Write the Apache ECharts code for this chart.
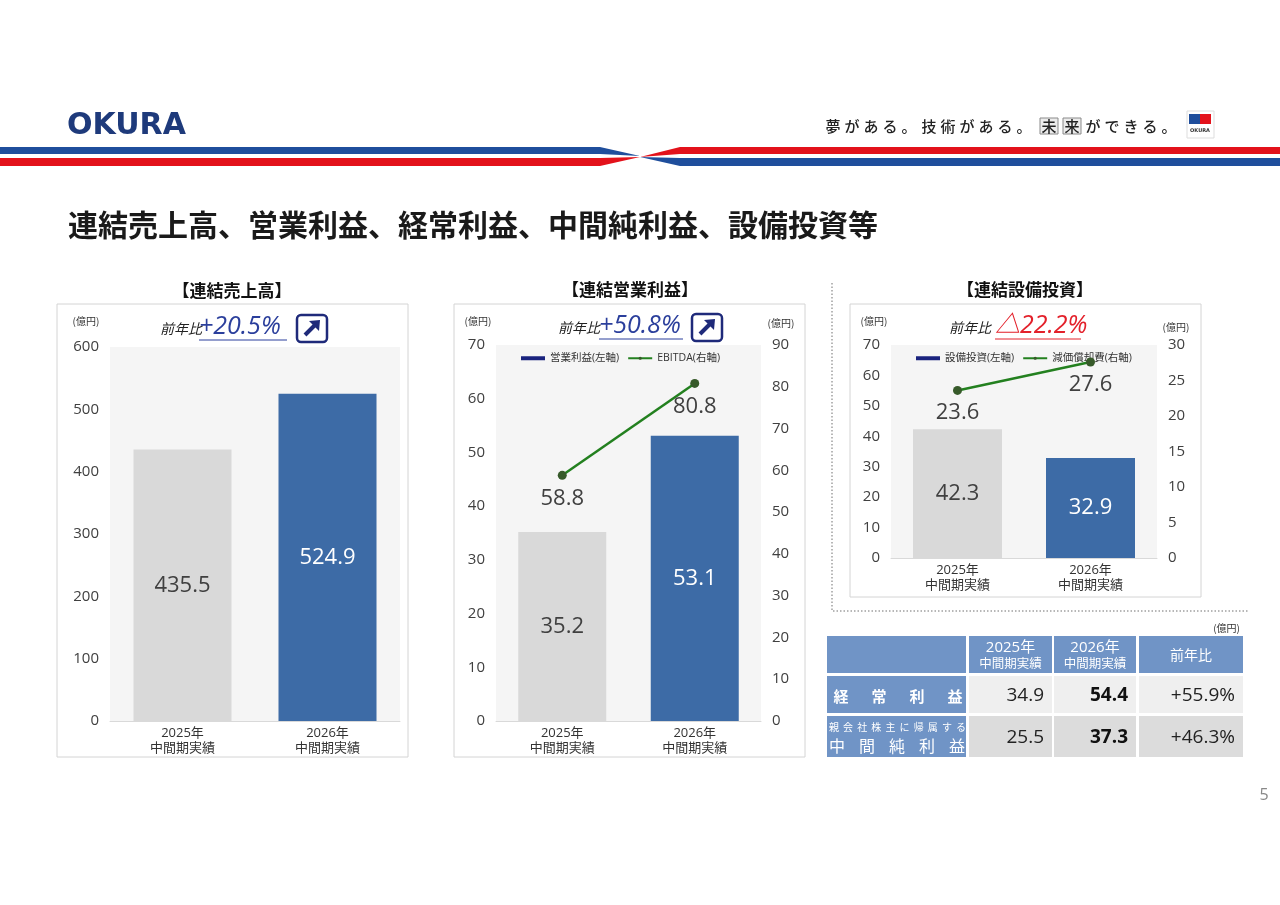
<!DOCTYPE html>
<html>
<head>
<meta charset="utf-8">
<script src="https://cdn.jsdelivr.net/npm/echarts@6/dist/echarts.min.js"></script>
<style>
  html, body { margin: 0; padding: 0; background: #fff; }
  #main { width: 1280px; height: 905px; }
</style>
</head>
<body>
<div id="main"></div>
<script>
// chart data
const categories = ['2025年\n中間期実績', '2026年\n中間期実績'];
const salesValues = [435.5, 524.9];
const opIncomeValues = [35.2, 53.1];
const ebitdaValues = [58.8, 80.8];
const capexValues = [42.3, 32.9];
const depreciationValues = [23.6, 27.6];
const yoyLabels = ['+20.5%', '+50.8%', '△22.2%'];

// table data
const tableHeaders = ['2025年\n中間期実績', '2026年\n中間期実績', '前年比'];
const ordinaryIncome = [34.9, 54.4];
const netIncome = [25.5, 37.3];
const tableYoy = ['+55.9%', '+46.3%'];

const FONT = '"Noto Sans CJK JP", "Noto Sans", sans-serif';
const NUMFONT = '"Open Sans", "Noto Sans CJK JP", sans-serif';
const barColors = ['#d9d9d9', '#3d6ba6'];
const barLabelColors = ['#404040', '#ffffff'];
const navy = '#1f2a7a';
const tableBlue = '#7094c6';

function barData(values) {
  return values.map((v, i) => ({
    value: v,
    itemStyle: { color: barColors[i] },
    label: { color: barLabelColors[i] }
  }));
}

function panel(x, y, w, h) {
  return {
    type: 'rect', z: -10,
    shape: { x: x, y: y, width: w, height: h },
    style: { fill: '#fff', stroke: '#d4d4d4', lineWidth: 1 }
  };
}

function txt(x, y, text, opts) {
  return {
    type: 'text', x: x, y: y, z: 50,
    style: Object.assign({
      text: text, fontFamily: FONT, fontSize: 14, fill: '#333',
      textAlign: 'center', textVerticalAlign: 'middle'
    }, opts || {})
  };
}

function arrowBox(x, y) {
  return {
    type: 'group', x: x, y: y, z: 50,
    children: [
      { type: 'rect', shape: { x: 0, y: 0, width: 30, height: 27, r: 4 },
        style: { fill: '#fff', stroke: navy, lineWidth: 2.5 } },
      { type: 'line', shape: { x1: 8, y1: 20, x2: 18, y2: 10 },
        style: { stroke: navy, lineWidth: 4 } },
      { type: 'polygon', shape: { points: [[23, 5], [12, 6], [22, 16]] },
        style: { fill: navy } }
    ]
  };
}

// "前年比" headline with underlined figure
function yoy(x, y, value, color, gap, w) {
  const vx = x + gap;
  return [
    txt(x, y, '前年比', { textAlign: 'left', fontSize: 14, fontStyle: 'italic', fill: '#222' }),
    txt(vx, y - 2, value, { textAlign: 'left', fontSize: 25, fontStyle: 'italic', fill: color, fontFamily: NUMFONT }),
    { type: 'line', z: 50, shape: { x1: vx, y1: y + 11, x2: vx + w, y2: y + 11 }, style: { stroke: color, lineWidth: 1 } }
  ];
}

// header, stripes and slide decorations
const graphics = [];
graphics.push(txt(67, 126, 'OKURA', {
  textAlign: 'left', fontSize: 30, fontWeight: 'bold', fill: '#1e3a7b',
  fontFamily: '"DejaVu Sans", sans-serif'
}));
graphics.push({ type: 'polygon', shape: { points: [[0, 147], [600, 147], [640, 156], [600, 154], [0, 154]] }, style: { fill: '#1f4e9c' } });
graphics.push({ type: 'polygon', shape: { points: [[0, 158], [600, 158], [640, 157], [600, 166], [0, 166]] }, style: { fill: '#e3121b' } });
graphics.push({ type: 'polygon', shape: { points: [[640, 157], [680, 147], [1280, 147], [1280, 154], [680, 154]] }, style: { fill: '#e3121b' } });
graphics.push({ type: 'polygon', shape: { points: [[640, 157], [680, 158], [1280, 158], [1280, 166], [680, 166]] }, style: { fill: '#1f4e9c' } });

const tagline = '夢がある。技術がある。未来ができる。';
const taglineX = [833, 852, 871, 890, 909, 929, 948, 967, 986, 1005, 1024, 1049, 1072, 1093, 1112, 1131, 1150, 1169];
Array.from(tagline).forEach((ch, i) => {
  const cx = taglineX[i];
  if (ch === '未' || ch === '来') {
    graphics.push({ type: 'rect', shape: { x: cx - 9, y: 118, width: 18, height: 16 }, style: { fill: '#ececec', stroke: '#8a8a8a', lineWidth: 1 } });
  }
  graphics.push(txt(cx, 126, ch, { fontSize: 15, fontWeight: 500, fill: '#222' }));
});
graphics.push({ type: 'rect', shape: { x: 1187, y: 111, width: 27, height: 27 }, style: { fill: '#fff', stroke: '#ddd', lineWidth: 1 } });
graphics.push({ type: 'rect', shape: { x: 1189, y: 114, width: 11, height: 10 }, style: { fill: '#1f4e9c' } });
graphics.push({ type: 'rect', shape: { x: 1200, y: 114, width: 11, height: 10 }, style: { fill: '#e3121b' } });
graphics.push(txt(1200, 131, 'OKURA', { fontSize: 5, fontWeight: 'bold', fill: '#333', fontFamily: '"DejaVu Sans", sans-serif' }));

graphics.push(txt(68, 225, '連結売上高、営業利益、経常利益、中間純利益、設備投資等', {
  textAlign: 'left', fontSize: 30, fontWeight: 'bold', fill: '#1a1a1a'
}));

// panels
graphics.push(panel(57, 304, 351, 453));
graphics.push(panel(454, 304, 351, 453));
graphics.push(panel(850, 304, 351, 293));
graphics.push(txt(232, 291, '【連結売上高】', { fontSize: 17, fontWeight: 'bold', fill: '#111' }));
graphics.push(txt(630, 290, '【連結営業利益】', { fontSize: 17, fontWeight: 'bold', fill: '#111' }));
graphics.push(txt(1025, 290, '【連結設備投資】', { fontSize: 17, fontWeight: 'bold', fill: '#111' }));

const unitStyle = { fontSize: 10, fill: '#333' };
graphics.push(txt(86, 321, '(億円)', unitStyle));
graphics.push(txt(478, 321, '(億円)', unitStyle));
graphics.push(txt(781, 323, '(億円)', unitStyle));
graphics.push(txt(874, 321, '(億円)', unitStyle));
graphics.push(txt(1176, 327, '(億円)', unitStyle));

graphics.push(...yoy(160, 329, yoyLabels[0], '#2b3f9c', 39, 88));
graphics.push(arrowBox(297, 315));
graphics.push(...yoy(558, 328, yoyLabels[1], '#2b3f9c', 41, 84));
graphics.push(arrowBox(692, 314));
graphics.push(...yoy(949, 328, yoyLabels[2], '#e3202a', 46, 86));

// dotted separator
graphics.push({ type: 'polyline', shape: { points: [[832, 283], [832, 611], [1249, 611]] },
  style: { fill: 'none', stroke: '#a0a0a0', lineWidth: 1.5, lineDash: [1.5, 2] } });

// table
const cols = [{ x: 827, w: 139 }, { x: 969, w: 83 }, { x: 1054, w: 82 }, { x: 1139, w: 104 }];
const rows = [{ y: 636, h: 37 }, { y: 676, h: 37 }, { y: 716, h: 41 }];
const rowFills = ['#efefef', '#dcdcdc'];
graphics.push(txt(1240, 628, '(億円)', { fontSize: 10, fill: '#333', textAlign: 'right' }));
cols.forEach((c) => {
  graphics.push({ type: 'rect', shape: { x: c.x, y: rows[0].y, width: c.w, height: rows[0].h }, style: { fill: tableBlue } });
});
tableHeaders.forEach((h, i) => {
  const c = cols[i + 1];
  const cx = c.x + c.w / 2;
  const parts = h.split('\n');
  if (parts.length === 2) {
    graphics.push(txt(cx, 648, parts[0], { fontSize: 15, fill: '#fff', fontFamily: NUMFONT }));
    graphics.push(txt(cx, 663, parts[1], { fontSize: 12.5, fill: '#fff' }));
  } else {
    graphics.push(txt(cx, 655, parts[0], { fontSize: 14, fill: '#fff' }));
  }
});
[ordinaryIncome, netIncome].forEach((vals, r) => {
  const row = rows[r + 1];
  const cy = row.y + row.h / 2 + 1;
  graphics.push({ type: 'rect', shape: { x: cols[0].x, y: row.y, width: cols[0].w, height: row.h }, style: { fill: tableBlue } });
  for (let k = 1; k < 4; k++) {
    graphics.push({ type: 'rect', shape: { x: cols[k].x, y: row.y, width: cols[k].w, height: row.h }, style: { fill: rowFills[r] } });
  }
  graphics.push(txt(cols[1].x + cols[1].w - 8, cy, vals[0].toFixed(1), { fontSize: 19, fill: '#222', textAlign: 'right', fontFamily: NUMFONT }));
  graphics.push(txt(cols[2].x + cols[2].w - 8, cy, vals[1].toFixed(1), { fontSize: 19, fill: '#111', fontWeight: 'bold', textAlign: 'right', fontFamily: NUMFONT }));
  graphics.push(txt(cols[3].x + cols[3].w - 8, cy, tableYoy[r], { fontSize: 19, fill: '#222', textAlign: 'right', fontFamily: NUMFONT }));
});
function spread(str, x0, x1, y, opts) {
  const chars = Array.from(str);
  const step = (x1 - x0) / (chars.length - 1);
  chars.forEach((ch, i) => graphics.push(txt(x0 + i * step, y, ch, opts)));
}
spread('経常利益', 841, 955, 696, { fontSize: 15, fill: '#fff', fontWeight: 'bold' });
spread('親会社株主に帰属する', 834, 961, 727, { fontSize: 10, fill: '#fff' });
spread('中間純利益', 837, 957, 746, { fontSize: 16, fill: '#fff' });

graphics.push(txt(1264, 795, '5', { fontSize: 16, fill: '#888', fontFamily: NUMFONT }));

// axes helpers
const axisLabel = { color: '#404040', fontSize: 15, fontFamily: NUMFONT };
function yAx(gridIndex, max, interval, position) {
  return {
    type: 'value', gridIndex: gridIndex, min: 0, max: max, interval: interval,
    position: position,
    axisLine: { show: false }, axisTick: { show: false }, splitLine: { show: false },
    axisLabel: Object.assign({ margin: 11 }, axisLabel)
  };
}
function xAx(gridIndex) {
  return {
    type: 'category', gridIndex: gridIndex, data: categories,
    axisLine: { lineStyle: { color: '#d9d9d9' } },
    axisTick: { length: 4, lineStyle: { color: '#d9d9d9' } },
    axisLabel: { color: '#333', fontSize: 13, lineHeight: 15, margin: 5, fontFamily: NUMFONT }
  };
}
const barLabel = { show: true, position: 'inside', fontSize: 22, fontFamily: NUMFONT, formatter: (p) => p.value.toFixed(1) };
const lineLabel = { show: true, position: 'bottom', fontSize: 22, color: '#404040', fontFamily: NUMFONT, formatter: (p) => p.value.toFixed(1) };
function lineSeries(name, values, xi, yi, dist) {
  return {
    name: name, type: 'line', xAxisIndex: xi, yAxisIndex: yi, data: values,
    symbol: 'circle', symbolSize: 9,
    itemStyle: { color: '#375a2a' },
    lineStyle: { color: '#23801f', width: 2.5 },
    label: Object.assign({ distance: dist }, lineLabel),
    z: 5
  };
}
function legendFor(left, names) {
  return {
    left: left, top: 348, itemWidth: 24, itemHeight: 4, itemGap: 8,
    textStyle: { fontSize: 10.5, color: '#333', fontFamily: NUMFONT },
    data: [
      { name: names[0], icon: 'rect', itemStyle: { color: '#1a237e' } },
      { name: names[1] }
    ]
  };
}

const chart = echarts.init(document.getElementById('main'));
chart.setOption({
  animation: false,
  textStyle: { fontFamily: FONT },
  grid: [
    { left: 110, top: 347, width: 290, height: 374, show: true, backgroundColor: '#f5f5f5', borderWidth: 0 },
    { left: 496, top: 345, width: 265, height: 376, show: true, backgroundColor: '#f5f5f5', borderWidth: 0 },
    { left: 891, top: 345, width: 266, height: 213, show: true, backgroundColor: '#f5f5f5', borderWidth: 0 }
  ],
  legend: [
    legendFor(516, ['営業利益(左軸)', 'EBITDA(右軸)']),
    legendFor(911, ['設備投資(左軸)', '減価償却費(右軸)'])
  ],
  xAxis: [xAx(0), xAx(1), xAx(2)],
  yAxis: [
    yAx(0, 600, 100, 'left'),
    yAx(1, 70, 10, 'left'),
    yAx(1, 90, 10, 'right'),
    yAx(2, 70, 10, 'left'),
    yAx(2, 30, 5, 'right')
  ],
  series: [
    { name: '連結売上高', type: 'bar', xAxisIndex: 0, yAxisIndex: 0, barWidth: 98, data: barData(salesValues), label: barLabel },
    { name: '営業利益(左軸)', type: 'bar', xAxisIndex: 1, yAxisIndex: 1, barWidth: 88, data: barData(opIncomeValues), label: barLabel },
    lineSeries('EBITDA(右軸)', ebitdaValues, 1, 2, 8),
    { name: '設備投資(左軸)', type: 'bar', xAxisIndex: 2, yAxisIndex: 3, barWidth: 89, data: barData(capexValues), label: barLabel },
    lineSeries('減価償却費(右軸)', depreciationValues, 2, 4, 7)
  ],
  graphic: { elements: graphics }
});
</script>
</body>
</html>
